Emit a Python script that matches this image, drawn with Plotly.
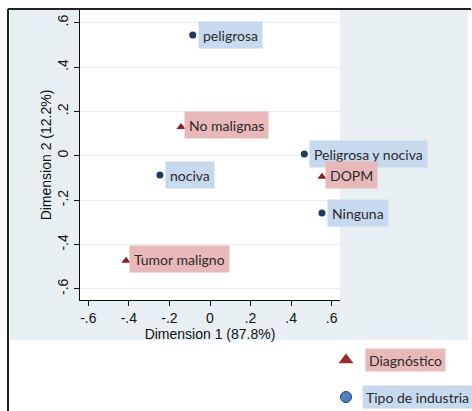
import plotly.graph_objects as go

# ---- data ----
industry_names = ["peligrosa", "nociva", "Peligrosa y nociva", "Ninguna"]
industry_x = [-0.085, -0.247, 0.465, 0.552]
industry_y = [0.544, -0.087, 0.008, -0.258]

diag_names = ["No malignas", "DOPM", "Tumor maligno"]
diag_x = [-0.143, 0.552, -0.414]
diag_y = [0.130, -0.095, -0.473]

tick_vals = [-0.6, -0.4, -0.2, 0, 0.2, 0.4, 0.6]
tick_text = ["-.6", "-.4", "-.2", "0", ".2", ".4", ".6"]

legend_labels = ["Diagnóstico", "Tipo de industria"]

x_title = "Dimension 1 (87.8%)"
y_title = "Dimension 2 (12.2%)"

# ---- styling ----
W, H = 472, 411
NAVY = "#1b3a5e"
DRED = "#8e1f22"
BLUE_BOX = "#c7d9ee"
PINK_BOX = "#e9b8b8"
GRAY_BG = "#e8eff2"
LABEL_FONT = dict(family="Lato", size=14, color="#2b2b2b")
AX_FONT = dict(family="Liberation Sans, Arial", size=14, color="#111111")

# pixel layout of plot region
PL, PR, PT, PB = 80, 340, 10, 300


def px_x(p):
    return p / W


def px_y(p):
    return 1 - p / H


fig = go.Figure()

fig.add_trace(go.Scatter(
    x=industry_x, y=industry_y, mode="markers",
    marker=dict(symbol="circle", size=7, color=NAVY),
    showlegend=False, hoverinfo="skip"))
fig.add_trace(go.Scatter(
    x=diag_x, y=diag_y, mode="markers",
    marker=dict(symbol="triangle-up", size=8, color=DRED),
    showlegend=False, hoverinfo="skip"))

annotations = []
for n, x, y in zip(industry_names, industry_x, industry_y):
    annotations.append(dict(x=x, y=y, xref="x", yref="y", text=n, showarrow=False,
                            xanchor="left", yanchor="middle", xshift=5,
                            bgcolor=BLUE_BOX, borderpad=4, height=18, font=LABEL_FONT))
for n, x, y in zip(diag_names, diag_x, diag_y):
    annotations.append(dict(x=x, y=y, xref="x", yref="y", text=n, showarrow=False,
                            xanchor="left", yanchor="middle", xshift=3, yshift=2,
                            bgcolor=PINK_BOX, borderpad=4, height=18, font=LABEL_FONT))

# legend (drawn on a hidden pixel-space axis)
leg_sym_x = 346
leg_rows_y = [360, 397]
leg_text_x = [365, 362]
fig.add_trace(go.Scatter(
    x=[leg_sym_x], y=[leg_rows_y[0]], xaxis="x2", yaxis="y2", mode="markers",
    marker=dict(symbol="triangle-up", size=13, color="#a3262a"),
    showlegend=False, hoverinfo="skip"))
fig.add_trace(go.Scatter(
    x=[leg_sym_x], y=[leg_rows_y[1]], xaxis="x2", yaxis="y2", mode="markers",
    marker=dict(symbol="circle", size=11, color="#4f82c4", line=dict(color="#1d3f66", width=1)),
    showlegend=False, hoverinfo="skip"))
for lbl, ly, lx, bg in zip(legend_labels, leg_rows_y, leg_text_x, [PINK_BOX, BLUE_BOX]):
    annotations.append(dict(x=lx, y=ly, xref="x2", yref="y2", text=lbl, showarrow=False,
                            xanchor="left", yanchor="middle", bgcolor=bg, borderpad=3,
                            height=16, font=LABEL_FONT))

shapes = [
    # gray graph region
    dict(type="rect", xref="paper", yref="paper", x0=px_x(10), x1=px_x(468),
         y0=px_y(340), y1=px_y(10), fillcolor=GRAY_BG, line=dict(width=0), layer="below"),
    # white plot region
    dict(type="rect", xref="paper", yref="paper", x0=px_x(PL), x1=px_x(PR),
         y0=px_y(PB), y1=px_y(PT), fillcolor="white", line=dict(width=0), layer="below"),
    # outer frame lines
    dict(type="line", xref="paper", yref="paper", x0=px_x(8), x1=px_x(8),
         y0=px_y(9), y1=0, line=dict(color="#222222", width=2)),
    dict(type="line", xref="paper", yref="paper", x0=px_x(8), x1=px_x(471),
         y0=px_y(9), y1=px_y(9), line=dict(color="#222222", width=2)),
]

fig.update_layout(
    width=W, height=H,
    margin=dict(l=0, r=0, t=0, b=0),
    paper_bgcolor="white", plot_bgcolor="rgba(0,0,0,0)",
    showlegend=False,
    xaxis=dict(domain=[px_x(PL), px_x(PR)], range=[-0.641, 0.641],
               tickvals=tick_vals, ticktext=tick_text, ticks="outside", ticklen=5,
               tickcolor="#111", showline=True, linecolor="#111", linewidth=1,
               showgrid=False, zeroline=False, tickfont=AX_FONT,
               title=dict(text=x_title, font=AX_FONT, standoff=0), anchor="y"),
    yaxis=dict(domain=[px_y(PB), px_y(PT)], range=[-0.65, 0.657],
               tickvals=tick_vals, ticktext=tick_text, ticks="outside", ticklen=5,
               tickcolor="#111", showline=True, linecolor="#111", linewidth=1,
               showgrid=True, gridcolor="#e6edf0", gridwidth=1, zeroline=False,
               tickangle=-90, tickfont=AX_FONT,
               title=dict(text=y_title, font=AX_FONT, standoff=0), anchor="x"),
    xaxis2=dict(domain=[0, 1], range=[0, W], visible=False, anchor="y2"),
    yaxis2=dict(domain=[0, 1], range=[H, 0], visible=False, anchor="x2"),
    annotations=annotations, shapes=shapes,
)

fig.write_html(
    "out.html",
    config={"displayModeBar": False},
    post_script="document.body.style.margin='0';document.body.style.overflow='hidden';",
)
